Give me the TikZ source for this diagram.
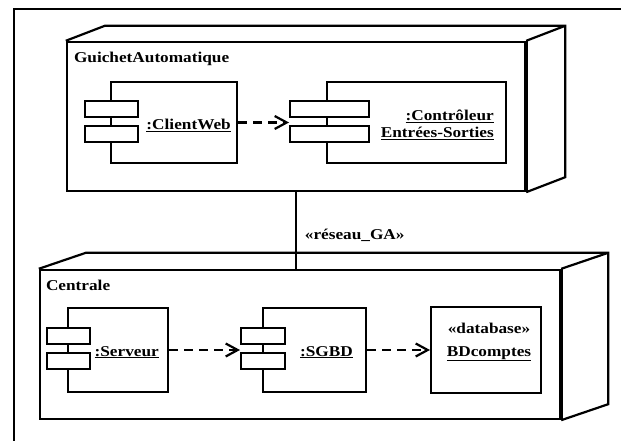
\documentclass[tikz,border=0pt]{standalone}
\usepackage{fontspec}
\setmainfont{Liberation Serif}[FakeStretch=1.15]
\usetikzlibrary{arrows.meta,calc}

\begin{document}
\begin{tikzpicture}[x=1pt,y=-1pt,inner sep=0pt,
	font=\fontsize{15}{17}\selectfont\bfseries,
	noeud/.style={draw,line width=2.4pt},
	composant/.style={draw,line width=2pt,fill=white},
	port/.style={draw,line width=2pt,fill=white,minimum height=16pt},
	dep/.style={->,>={Straight Barb[length=12pt,width=13pt,line width=2.2pt]},dash pattern=on 9pt off 6pt,line width=2.4pt}]
	\useasboundingbox (0,0) rectangle (621,441);
	\draw[line width=1.8pt] (621,9) -- (14,9) -- (14,441);

	% noeud GuichetAutomatique
	\node[noeud,minimum width=458pt,minimum height=149pt] (ga) at (296,116.5) {};
	\draw[line width=2.2pt] (ga.north west) -- ++(39,-15) -| ($(ga.south east)+(39,-15)$) -- (ga.south east)
		(ga.north east) -- ++(39,-15);
	\draw[line width=3.4pt] (ga.north east) -- (ga.south east);
	\node[anchor=base west] (gaNom) at ($(ga.north west)+(8,22)$) {GuichetAutomatique};

	\node[composant,minimum width=126pt,minimum height=81pt] (cw) at (174,122.5) {};
	\node[port,minimum width=53pt] (cwA) at ($(cw.west)+(1.5,-13.5)$) {};
	\node[port,minimum width=53pt] (cwB) at ($(cw.west)+(1.5,12)$) {};
	\node[anchor=base east] (cwNom) at ($(cw.east)+(-7,7.5)$) {\underline{:ClientWeb}};

	\node[composant,minimum width=179pt,minimum height=81pt] (ct) at (416.5,122.5) {};
	\node[port,minimum width=79pt] (ctA) at ($(ct.west)+(3.5,-13.5)$) {};
	\node[port,minimum width=79pt] (ctB) at ($(ct.west)+(3.5,12)$) {};
	\node[anchor=base east] (ctNom) at ($(ct.east)+(-13,-2)$) {\underline{:Contrôleur}};
	\node[anchor=base east] (ctNom2) at ($(ct.east)+(-13,15)$) {\underline{Entrées-Sorties}};

	% noeud Centrale
	\node[noeud,minimum width=520pt,minimum height=149pt] (ce) at (300,344.5) {};
	\draw[line width=2.2pt] (ce.north west) -- ++(47,-16) -| ($(ce.south east)+(47,-16)$) -- (ce.south east)
		(ce.north east) -- ++(47,-16);
	\draw[line width=3.4pt] (ce.north east) -- (ce.south east);
	\node[anchor=base west] (ceNom) at ($(ce.north west)+(7,22)$) {Centrale};

	\node[composant,minimum width=100pt,minimum height=84pt] (sv) at (118,350) {};
	\node[port,minimum width=43pt] (svA) at ($(sv.west)+(1,-14)$) {};
	\node[port,minimum width=43pt] (svB) at ($(sv.west)+(1,11)$) {};
	\node[anchor=base east] (svNom) at ($(sv.east)+(-10,6)$) {\underline{:Serveur}};

	\node[composant,minimum width=103pt,minimum height=84pt] (sg) at (314.5,350) {};
	\node[port,minimum width=44pt] (sgA) at ($(sg.west)+(1,-14)$) {};
	\node[port,minimum width=44pt] (sgB) at ($(sg.west)+(1,11)$) {};
	\node[anchor=base east] (sgNom) at ($(sg.east)+(-14,6)$) {\underline{:SGBD}};

	\node[composant,minimum width=110pt,minimum height=86pt] (bd) at (486,350) {};
	\node[anchor=base] (bdSt) at ($(bd.center)+(3,-17)$) {«database»};
	\node[anchor=base] (bdNom) at ($(bd.center)+(3,6)$) {\underline{BDcomptes}};

	% dependances et liaison
	\draw[dep] (cw.east) -- (cw.east -| ctA.west);
	\draw[dep] (sv.east) -- (sv.east -| sgA.west);
	\draw[dep,line width=1.8pt] (sg.east) -- (bd.west);
	\draw[line width=1.8pt] (ga.south) -- (ga.south |- ce.north) node[pos=0.56,right=8pt] {«réseau\_GA»};
\end{tikzpicture}
\end{document}
